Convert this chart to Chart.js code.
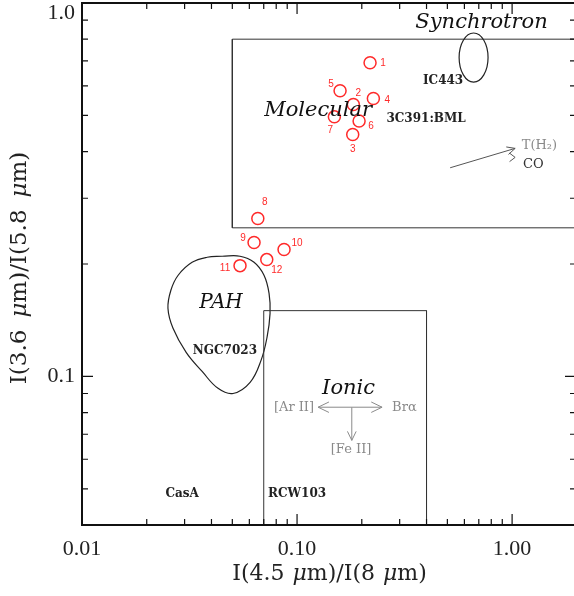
<!DOCTYPE html>
<html>
<head>
<meta charset="utf-8">
<script src="https://cdn.jsdelivr.net/npm/chart.js@4.4.0/dist/chart.umd.min.js"></script>
<style>
  html, body { margin: 0; padding: 0; background: #fff; overflow: hidden; }
  canvas { display: block; }
</style>
</head>
<body>
<canvas id="ratio-chart" width="574" height="596"></canvas>
<script>
// knots 1..12
const sourceIds = ['1', '2', '3', '4', '5', '6', '7', '8', '9', '10', '11', '12'];
const ratio45to8 = [0.2185, 0.1827, 0.1815, 0.2264, 0.1585, 0.1943, 0.1491, 0.0657, 0.0631, 0.0870, 0.0543, 0.0723];
const ratio36to58 = [0.692, 0.535, 0.4446, 0.555, 0.582, 0.4828, 0.4956, 0.2648, 0.2283, 0.2186, 0.198, 0.2055];

// axes (the right edge of the frame falls just outside the picture)
const xRange = [0.01, 1.94];
const yRange = [0.04, 1];
const xMajor = [0.01, 0.1, 1];
const xTickLabels = ['0.01', '0.10', '1.00'];
const xMinor = [0.02, 0.03, 0.04, 0.05, 0.06, 0.07, 0.08, 0.09, 0.2, 0.3, 0.4, 0.5, 0.6, 0.7, 0.8, 0.9];
const yMajor = [0.1, 1];
const yTickLabels = ['0.1', '1.0'];
const yMinor = [0.05, 0.06, 0.07, 0.08, 0.09, 0.2, 0.3, 0.4, 0.5, 0.6, 0.7, 0.8, 0.9];

// regions
const molecularX = [2, 0.05, 0.05, 2];
const molecularY = [0.8, 0.8, 0.25, 0.25];
const ionicX = [0.07, 0.07, 0.4, 0.4];
const ionicY = [0.04, 0.15, 0.15, 0.04];
const pahX = [0.0448, 0.0543, 0.0631, 0.0702, 0.0741, 0.0749, 0.0725, 0.0680, 0.0605, 0.0504, 0.0429, 0.0362, 0.0305, 0.0265, 0.0251, 0.0259, 0.0280, 0.0325, 0.0382, 0.0448];
const pahY = [0.2098, 0.2098, 0.2021, 0.1866, 0.1669, 0.1475, 0.1272, 0.1104, 0.0964, 0.0900, 0.0929, 0.1031, 0.1160, 0.1345, 0.1522, 0.1701, 0.1866, 0.2021, 0.2085, 0.2098];
const synchX = [0.567, 0.773];
const synchY = [0.614, 0.831];

// arrows
const excitationX = [0.515, 1.033];
const excitationY = [0.362, 0.408];
const ionicArrowX = [0.1253, 0.2485];
const ionicArrowY = [0.0827, 0.0827];
const feArrowX = [0.1797, 0.1797];
const feArrowY = [0.0826, 0.0674];

// labels
const regionNames = ['Synchrotron', 'Molecular', 'PAH', 'Ionic'];
const regionX = [0.721, 0.1253, 0.0443, 0.1736];
const regionY = [0.884, 0.5164, 0.157, 0.0929];
const objectNames = ['IC443', '3C391:BML', 'NGC7023', 'CasA', 'RCW103'];
const objectX = [0.4775, 0.398, 0.0462, 0.0292, 0.1];
const objectY = [0.619, 0.49, 0.1174, 0.0486, 0.0486];
const lineNames = ['T(H\u2082)', 'CO', '[Ar II]', 'Br\u03b1', '[Fe II]'];
const lineX = [1.109, 1.125, 0.12, 0.2767, 0.1783];
const lineY = [0.416, 0.368, 0.0826, 0.0826, 0.0637];

// pixel nudges for the knot numbers
const idOffsets = [[13, 1], [5, -11], [0, 15], [14, 2], [-9, -7], [12, 5], [-4, 13], [7, -16], [-11, -4], [13, -6], [-15, 3], [10, 11]];
const lineAlign = ['left', 'left', 'right', 'left', 'center'];
const lineColor = ['#8a8a8a', '#333', '#8a8a8a', '#8a8a8a', '#8a8a8a'];

const RED = '#ff2a2a';
const SERIF = '"DejaVu Serif", serif';

const toPoints = (xs, ys) => xs.map((v, i) => ({ x: v, y: ys[i] }));

const arrowHead = (ctx, x0, y0, x1, y1, len, spread) => {
    const ang = Math.atan2(y1 - y0, x1 - x0);
    ctx.beginPath();
    ctx.moveTo(x1 - len * Math.cos(ang - spread), y1 - len * Math.sin(ang - spread));
    ctx.lineTo(x1, y1);
    ctx.lineTo(x1 - len * Math.cos(ang + spread), y1 - len * Math.sin(ang + spread));
    ctx.stroke();
}

const drawTitle = (ctx, parts, cx, cy, angle, size, gap) => {
    const fontOf = (it) => (it ? 'italic ' : '') + size + 'px ' + SERIF;
    let total = 0;
    parts.forEach(p => {
        ctx.font = fontOf(p[1]);
        total += ctx.measureText(p[0]).width;
        if (p[1]) total += gap;
    });
    ctx.save();
    ctx.translate(cx, cy);
    ctx.rotate(angle);
    ctx.textAlign = 'left';
    ctx.textBaseline = 'middle';
    ctx.fillStyle = '#222';
    let pos = -total / 2;
    parts.forEach(p => {
        if (p[1]) pos += gap;
        ctx.font = fontOf(p[1]);
        ctx.fillText(p[0], pos, 0);
        pos += ctx.measureText(p[0]).width;
    });
    ctx.restore();
}

const frame = {
    id: 'frame',
    afterDatasetsDraw(chart) {
        const { ctx, chartArea: a, scales: { x, y } } = chart;
        const px = v => x.getPixelForValue(v);
        const py = v => y.getPixelForValue(v);
        ctx.save();

        // synchrotron ellipse
        const ex0 = px(synchX[0]), ex1 = px(synchX[1]);
        const ey0 = py(synchY[0]), ey1 = py(synchY[1]);
        ctx.beginPath();
        ctx.ellipse((ex0 + ex1) / 2, (ey0 + ey1) / 2, Math.abs(ex1 - ex0) / 2, Math.abs(ey1 - ey0) / 2, 0, 0, Math.PI * 2);
        ctx.strokeStyle = '#222';
        ctx.lineWidth = 1.2;
        ctx.stroke();

        // excitation arrow
        ctx.strokeStyle = '#555';
        ctx.lineWidth = 1;
        const ax0 = px(excitationX[0]), ay0 = py(excitationY[0]);
        const ax1 = px(excitationX[1]), ay1 = py(excitationY[1]);
        ctx.beginPath();
        ctx.moveTo(ax0, ay0);
        ctx.lineTo(ax1, ay1);
        ctx.stroke();
        arrowHead(ctx, ax0, ay0, ax1, ay1, 9, 0.45);
        arrowHead(ctx, ax1 - 10, ay1 + 9, ax1, ay1 + 9, 7, 0.65);

        // ionic arrows
        ctx.strokeStyle = '#8a8a8a';
        const hx0 = px(ionicArrowX[0]), hx1 = px(ionicArrowX[1]), hy = py(ionicArrowY[0]);
        ctx.beginPath();
        ctx.moveTo(hx0, hy);
        ctx.lineTo(hx1, hy);
        ctx.stroke();
        arrowHead(ctx, hx1, hy, hx0, hy, 12, 0.45);
        arrowHead(ctx, hx0, hy, hx1, hy, 12, 0.45);
        const vx = px(feArrowX[0]), vy0 = py(feArrowY[0]), vy1 = py(feArrowY[1]);
        ctx.beginPath();
        ctx.moveTo(vx, vy0);
        ctx.lineTo(vx, vy1);
        ctx.stroke();
        arrowHead(ctx, vx, vy0, vx, vy1, 10, 0.45);

        // frame: left, top and bottom (right one is off the picture)
        ctx.strokeStyle = '#111';
        ctx.lineWidth = 2;
        ctx.beginPath();
        ctx.moveTo(a.right + 2, a.top);
        ctx.lineTo(a.left, a.top);
        ctx.lineTo(a.left, a.bottom);
        ctx.lineTo(a.right + 2, a.bottom);
        ctx.stroke();
        ctx.lineWidth = 1.2;
        ctx.beginPath();
        const xTick = (v, len) => {
            const p = px(v);
            ctx.moveTo(p, a.bottom); ctx.lineTo(p, a.bottom - len);
            ctx.moveTo(p, a.top); ctx.lineTo(p, a.top + len);
        };
        const yTick = (v, len) => {
            const p = py(v);
            ctx.moveTo(a.left, p); ctx.lineTo(a.left + len, p);
            ctx.moveTo(a.right + 2, p); ctx.lineTo(a.right + 2 - len, p);
        };
        xMajor.forEach(v => xTick(v, 11));
        xMinor.forEach(v => xTick(v, 6));
        yMajor.forEach(v => yTick(v, 11));
        yMinor.forEach(v => yTick(v, 6));
        ctx.stroke();

        // tick labels
        ctx.fillStyle = '#222';
        ctx.font = '22px "Liberation Serif", serif';
        ctx.textAlign = 'center';
        ctx.textBaseline = 'middle';
        xMajor.forEach((v, i) => ctx.fillText(xTickLabels[i], px(v), a.bottom + 24));
        ctx.textAlign = 'right';
        yMajor.forEach((v, i) => ctx.fillText(yTickLabels[i], a.left - 7, Math.max(py(v), a.top + 10)));

        // axis titles
        drawTitle(ctx, [['I(4.5', false], ['\u03bc', true], ['m)/I(8', false], ['\u03bc', true], ['m)', false]],
            (a.left + a.right + 3) / 2, a.bottom + 49, 0, 22, 8);
        drawTitle(ctx, [['I(3.6', false], ['\u03bc', true], ['m)/I(5.8', false], ['\u03bc', true], ['m)', false]],
            20, (a.top + a.bottom) / 2 + 4, -Math.PI / 2, 23, 12);

        // region names
        ctx.textAlign = 'center';
        ctx.fillStyle = '#111';
        regionNames.forEach((t, i) => {
            ctx.font = 'italic ' + (t === 'PAH' ? 20 : 21) + 'px ' + SERIF;
            ctx.fillText(t, px(regionX[i]), py(regionY[i]));
        });

        // object names
        ctx.font = 'bold 12px ' + SERIF;
        ctx.fillStyle = '#222';
        objectNames.forEach((t, i) => ctx.fillText(t, px(objectX[i]), py(objectY[i])));

        // line names
        ctx.font = '13px ' + SERIF;
        lineNames.forEach((t, i) => {
            ctx.textAlign = lineAlign[i];
            ctx.fillStyle = lineColor[i];
            ctx.fillText(t, px(lineX[i]), py(lineY[i]));
        });

        // knot numbers
        ctx.font = '10px "Liberation Sans", sans-serif';
        ctx.textAlign = 'center';
        ctx.fillStyle = RED;
        sourceIds.forEach((t, i) => {
            ctx.fillText(t, px(ratio45to8[i]) + idOffsets[i][0], py(ratio36to58[i]) + idOffsets[i][1]);
        });
        ctx.restore();
    }
};

const canvas = document.getElementById('ratio-chart');
const chart = new Chart(canvas, {
    type: 'scatter',
    data: {
        datasets: [{
            label: 'Molecular',
            data: toPoints(molecularX, molecularY),
            showLine: true,
            borderColor: '#333',
            borderWidth: 1,
            pointRadius: 0,
            tension: 0
        }, {
            label: 'Ionic',
            data: toPoints(ionicX, ionicY),
            showLine: true,
            borderColor: '#333',
            borderWidth: 1,
            pointRadius: 0,
            tension: 0
        }, {
            label: 'PAH',
            data: toPoints(pahX, pahY),
            showLine: true,
            borderColor: '#222',
            borderWidth: 1.2,
            pointRadius: 0,
            tension: 0.4
        }, {
            label: 'knots',
            data: toPoints(ratio45to8, ratio36to58),
            showLine: false,
            pointRadius: 6,
            pointHoverRadius: 6,
            pointBorderWidth: 1.5,
            borderColor: RED,
            backgroundColor: 'rgba(0,0,0,0)'
        }]
    },
    options: {
        responsive: false,
        animation: false,
        events: [],
        layout: { autoPadding: false, padding: { left: 82, top: 3, right: 0, bottom: 71 } },
        plugins: { legend: { display: false }, tooltip: { enabled: false } },
        scales: {
            x: { type: 'logarithmic', min: xRange[0], max: xRange[1], display: false },
            y: { type: 'logarithmic', min: yRange[0], max: yRange[1], display: false }
        }
    },
    plugins: [frame]
});
</script>
</body>
</html>
